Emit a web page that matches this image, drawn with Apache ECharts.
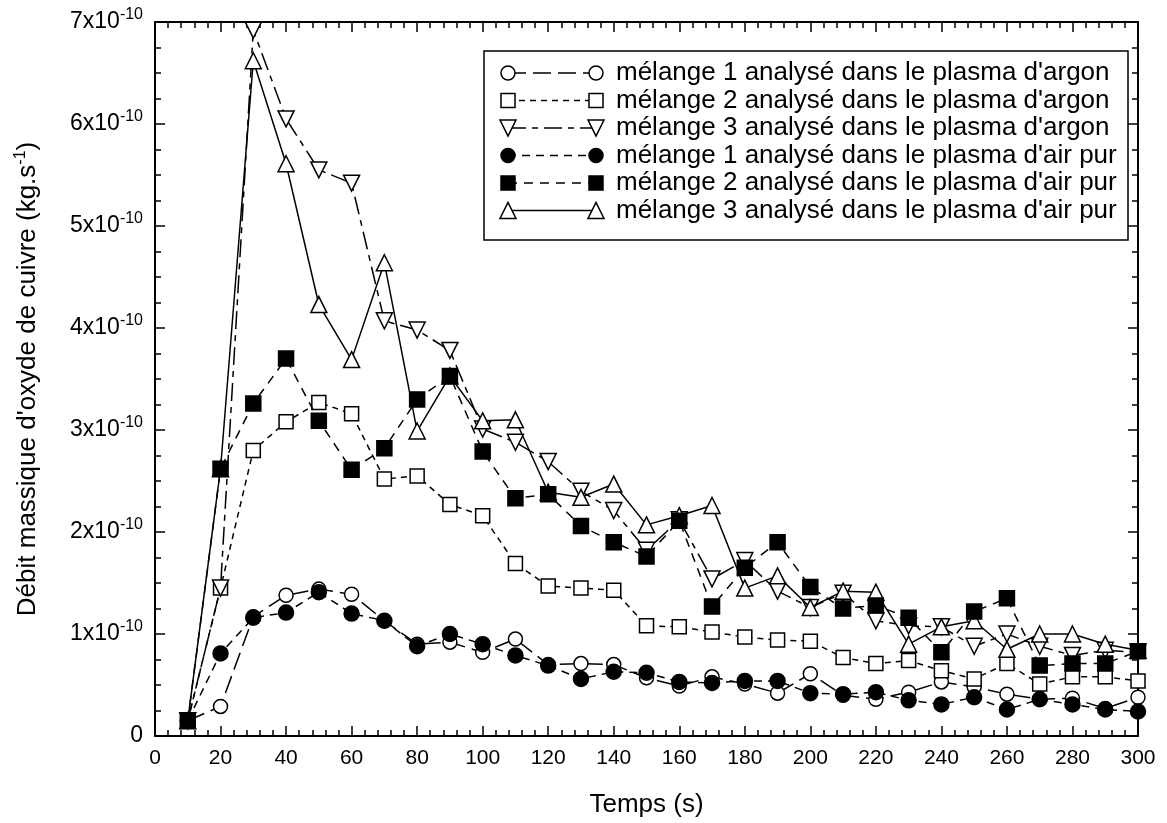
<!DOCTYPE html>
<html>
<head>
<meta charset="utf-8">
<script src="https://cdn.jsdelivr.net/npm/echarts@6/dist/echarts.min.js"></script>
<style>
html, body { margin: 0; padding: 0; background: #fff; }
#chart { width: 1167px; height: 823px; }
</style>
</head>
<body>
<div id="chart"></div>
<script>
// temps (s)
var temps = [10, 20, 30, 40, 50, 60, 70, 80, 90, 100, 110, 120, 130, 140, 150,
             160, 170, 180, 190, 200, 210, 220, 230, 240, 250, 260, 270, 280, 290, 300];

// debit massique, en unites de 1e-10 kg/s
var m1Argon = [0.15, 0.29, 1.17, 1.38, 1.44, 1.39, 1.13, 0.90, 0.92, 0.82, 0.95, 0.70, 0.71, 0.70, 0.57,
               0.49, 0.58, 0.51, 0.42, 0.61, 0.40, 0.36, 0.43, 0.53, 0.48, 0.41, 0.36, 0.37, 0.27, 0.38];
var m2Argon = [0.15, 1.45, 2.80, 3.08, 3.27, 3.16, 2.52, 2.55, 2.27, 2.16, 1.69, 1.47, 1.45, 1.43, 1.08,
               1.07, 1.02, 0.97, 0.94, 0.93, 0.77, 0.71, 0.74, 0.64, 0.56, 0.71, 0.51, 0.58, 0.58, 0.54];
var m3Argon = [0.15, 1.45, 6.92, 6.05, 5.55, 5.42, 4.07, 3.98, 3.78, 3.01, 2.88, 2.69, 2.40, 2.21, 1.82,
               2.12, 1.54, 1.72, 1.42, 1.26, 1.40, 1.13, 1.08, 1.07, 0.88, 1.00, 0.88, 0.79, 0.84, 0.82];
var m1Air = [0.15, 0.81, 1.16, 1.21, 1.41, 1.20, 1.13, 0.88, 1.00, 0.90, 0.79, 0.69, 0.56, 0.63, 0.62,
             0.53, 0.52, 0.54, 0.54, 0.42, 0.41, 0.43, 0.35, 0.31, 0.38, 0.26, 0.36, 0.31, 0.26, 0.24];
var m2Air = [0.15, 2.62, 3.26, 3.70, 3.09, 2.61, 2.82, 3.30, 3.53, 2.79, 2.33, 2.37, 2.06, 1.90, 1.76,
             2.11, 1.27, 1.65, 1.90, 1.46, 1.25, 1.28, 1.16, 0.82, 1.22, 1.35, 0.69, 0.71, 0.71, 0.83];
var m3Air = [0.15, 2.62, 6.62, 5.61, 4.23, 3.69, 4.64, 2.99, 3.53, 3.09, 3.10, 2.39, 2.34, 2.47, 2.07,
             2.16, 2.26, 1.45, 1.57, 1.26, 1.42, 1.41, 0.90, 1.07, 1.13, 0.85, 1.00, 1.00, 0.90, 0.84];

var noms = [
    "mélange 1 analysé dans le plasma d'argon",
    "mélange 2 analysé dans le plasma d'argon",
    "mélange 3 analysé dans le plasma d'argon",
    "mélange 1 analysé dans le plasma d'air pur",
    "mélange 2 analysé dans le plasma d'air pur",
    "mélange 3 analysé dans le plasma d'air pur"
];

var FONT = 'Liberation Sans';

// style de chaque courbe : symbole, plein ou vide, tirets, ordre d'affichage
var styles = [
    { data: m1Argon, symbol: 'circle', size: 14, rot: 0, fill: '#fff', dash: [18, 7], z: 2 },
    { data: m2Argon, symbol: 'rect', size: 14, rot: 0, fill: '#fff', dash: [6, 5], z: 3 },
    { data: m3Argon, symbol: 'triangle', size: 16, rot: 180, fill: '#fff', dash: [18, 6, 6, 6], z: 4 },
    { data: m1Air, symbol: 'circle', size: 15, rot: 0, fill: '#000', dash: [8, 6], z: 5 },
    { data: m2Air, symbol: 'rect', size: 15, rot: 0, fill: '#000', dash: [9, 7], z: 7 },
    { data: m3Air, symbol: 'triangle', size: 16, rot: 0, fill: '#fff', dash: 'solid', z: 6 }
];

var series = styles.map(function (s, k) {
    return {
        name: noms[k],
        type: 'line',
        data: temps.map(function (t, i) { return [t, s.data[i]]; }),
        symbol: s.symbol,
        symbolSize: s.size,
        symbolRotate: s.rot,
        showAllSymbol: true,
        animation: false,
        lineStyle: { color: '#000', width: 1.5, type: s.dash },
        itemStyle: { color: s.fill, borderColor: '#000', borderWidth: 1.5 },
        z: s.z
    };
});

// legende dessinee a la main (symbole - trait - symbole)
function marque(s, cx, cy) {
    var st = { fill: s.fill, stroke: '#000', lineWidth: 1.5 };
    var r = 7;
    if (s.symbol === 'circle') {
        return { type: 'circle', shape: { cx: cx, cy: cy, r: r }, style: st, z: 101 };
    }
    if (s.symbol === 'rect') {
        return { type: 'rect', shape: { x: cx - r, y: cy - r, width: 2 * r, height: 2 * r }, style: st, z: 101 };
    }
    var h = 8;
    var pts = s.rot ? [[cx - h, cy - h], [cx + h, cy - h], [cx, cy + h]]
                    : [[cx - h, cy + h], [cx + h, cy + h], [cx, cy - h]];
    return { type: 'polygon', shape: { points: pts }, style: st, z: 101 };
}

var legende = [{
    type: 'rect',
    shape: { x: 484, y: 51, width: 644, height: 189 },
    style: { fill: '#fff', stroke: '#000', lineWidth: 1.5 },
    z: 100
}];
styles.forEach(function (s, k) {
    var y = 73 + k * 27.5;
    legende.push({
        type: 'line',
        shape: { x1: 508, y1: y, x2: 596, y2: y },
        style: { stroke: '#000', lineWidth: 1.5, lineDash: s.dash === 'solid' ? null : s.dash },
        z: 100
    });
    legende.push(marque(s, 508, y));
    legende.push(marque(s, 596, y));
    legende.push({
        type: 'text',
        x: 616, y: y,
        style: { text: noms[k], font: '26px "' + FONT + '"', fill: '#000', textVerticalAlign: 'middle' },
        z: 101
    });
});

var chart = echarts.init(document.getElementById('chart'));

var axeCommun = {
    axisLine: { onZero: false, lineStyle: { color: '#000', width: 2 } },
    axisTick: { inside: true, length: 10, lineStyle: { color: '#000', width: 1.5 } },
    minorTick: { show: true, length: 6, lineStyle: { color: '#000', width: 1.5 } },
    splitLine: { show: false }
};

function axeX(pos, labels) {
    return Object.assign({}, axeCommun, {
        type: 'value', position: pos, min: 0, max: 300, interval: 20,
        minorTick: Object.assign({}, axeCommun.minorTick, { splitNumber: 5 }),
        axisLabel: { show: labels, color: '#000', fontSize: 21, fontFamily: FONT, margin: 12 },
        name: labels ? 'Temps (s)' : '',
        nameLocation: 'middle', nameGap: 56,
        nameTextStyle: { color: '#000', fontSize: 26, fontFamily: FONT }
    });
}

function axeY(pos, labels) {
    return Object.assign({}, axeCommun, {
        type: 'value', position: pos, min: 0, max: 7, interval: 1,
        minorTick: Object.assign({}, axeCommun.minorTick, { splitNumber: 4 }),
        axisLabel: {
            show: labels, margin: 12,
            formatter: function (v) { return v === 0 ? '{b|0}' : '{b|' + v + 'x10}{s|-10}'; },
            rich: {
                b: { color: '#000', fontSize: 23, fontFamily: FONT },
                s: { color: '#000', fontSize: 16, fontFamily: FONT, padding: [0, 0, 14, 0] }
            }
        },
        name: labels ? "{a|Débit massique d'oxyde de cuivre (kg.s}{s|-1}{a|)}" : '',
        nameLocation: 'middle', nameGap: 112, nameRotate: 90,
        nameTextStyle: {
            rich: {
                a: { color: '#000', fontSize: 26, fontFamily: FONT },
                s: { color: '#000', fontSize: 16, fontFamily: FONT, padding: [0, 0, 14, 0] }
            }
        }
    });
}

var option = {
    backgroundColor: '#fff',
    animation: false,
    grid: { left: 155, right: 29, top: 22, bottom: 86 },
    xAxis: [axeX('bottom', true), axeX('top', false)],
    yAxis: [axeY('left', true), axeY('right', false)],
    series: series,
    graphic: legende
};

chart.setOption(option);
window.onresize = chart.resize;
</script>
</body>
</html>
